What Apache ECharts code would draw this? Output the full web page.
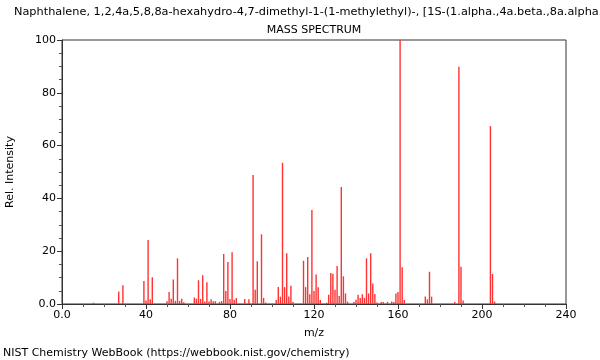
<!DOCTYPE html>
<html><head><meta charset="utf-8">
<script src="https://cdn.jsdelivr.net/npm/echarts@6/dist/echarts.min.js"></script>
<style>html,body{margin:0;padding:0;background:#fff;}#c{width:600px;height:360px;}</style>
</head><body><div id="c"></div>
<script>
var titleLine = "Naphthalene, 1,2,4a,5,8,8a-hexahydro-4,7-dimethyl-1-(1-methylethyl)-, [1S-(1.alpha.,4a.beta.,8a.alpha.)]-";
var subTitle = "MASS SPECTRUM";
var footer = "NIST Chemistry WebBook (https://webbook.nist.gov/chemistry)";
var xTicks = [0, 40, 80, 120, 160, 200, 240];
var yTicks = [0, 20, 40, 60, 80, 100];
var mz = [15,27,29,39,40,41,42,43,50,51,52,53,54,55,56,57,58,63,64,65,66,67,68,69,70,71,72,73,75,76,77,78,79,80,81,82,83,87,89,
  91,92,93,95,96,97,102,103,104,105,106,107,108,109,110,115,116,117,118,119,120,121,122,123,126,127,128,129,130,131,132,133,134,135,136,
  139,140,141,142,143,144,145,146,147,148,149,150,152,153,155,157,158,159,160,161,162,163,173,174,175,176,187,189,190,191,204,205,206];
var intensity = [0.5,4.7,7.1,8.7,1.3,24.2,1.8,10.1,1.0,4.5,2.0,9.3,1.2,17.3,1.2,2.0,0.7,2.5,2.0,9.0,1.9,10.9,0.9,8.2,0.9,1.8,1.0,1.0,0.8,1.1,18.9,4.9,15.9,1.9,19.6,1.6,2.3,1.9,1.8,
  48.9,5.4,16.2,26.4,2.3,0.6,1.5,6.4,2.8,53.5,6.4,19.2,2.8,6.9,0.8,16.4,6.4,17.8,3.7,35.6,4.9,11.2,6.3,1.5,0.5,3.5,11.7,11.5,5.4,14.4,3.0,44.3,10.5,4.0,0.9,
  0.8,1.6,3.5,2.3,3.7,2.3,17.3,4.0,19.2,7.8,3.8,0.6,0.8,0.8,0.8,0.9,0.8,4.0,4.5,100,13.9,1.5,2.8,1.8,12.2,2.8,0.8,89.9,14.1,1.3,67.4,11.4,0.9];

var data = mz.map(function(m, i){ return [m, intensity[i]]; });
var chart = echarts.init(document.getElementById('c'), null, {renderer:'canvas'});
var fmt = function(v){ return v === 0 ? '0.0' : String(v); };
var axisCol = '#333';
chart.setOption({
  animation: false,
  textStyle: {fontFamily: 'DejaVu Sans'},
  grid: {left: 62, right: 34, top: 40, bottom: 56, containLabel: false, outerBoundsMode: 'none', show: true, borderColor: axisCol, borderWidth: 1, backgroundColor: 'transparent'},
  graphic: [
    {type:'text', x: 14, y: 7, style:{text: titleLine, fontSize: 11.3, fontFamily:'DejaVu Sans', fill:'#000', textVerticalAlign:'top'}},
    {type:'text', x: 314, y: 25, style:{text: subTitle, fontSize: 11, fontFamily:'DejaVu Sans', fill:'#000', textAlign:'center', textVerticalAlign:'top'}},
    {type:'text', x: 3, y: 348, style:{text: footer, fontSize: 11, fontFamily:'DejaVu Sans', fill:'#000', textVerticalAlign:'top'}}
  ],
  xAxis: {
    type: 'value', min: xTicks[0], max: xTicks[xTicks.length-1], interval: 40,
    name: 'm/z', nameLocation: 'middle', nameGap: 24, nameTextStyle: {fontSize: 11, color:'#000', fontFamily:'DejaVu Sans'},
    axisLine: {show: true, lineStyle: {color: axisCol}},
    axisTick: {show: true, length: 5, lineStyle: {color: axisCol}},
    minorTick: {show: true, splitNumber: 4, length: 3, lineStyle: {color: '#555'}},
    splitLine: {show: false},
    axisLabel: {formatter: fmt, fontSize: 11, color: '#000', margin: 6, fontFamily:'DejaVu Sans'}
  },
  yAxis: {
    type: 'value', min: yTicks[0], max: yTicks[yTicks.length-1], interval: 20,
    name: 'Rel. Intensity', nameLocation: 'middle', nameGap: 46, nameRotate: 90, nameTextStyle: {fontSize: 11, color:'#000', fontFamily:'DejaVu Sans'},
    axisLine: {show: true, lineStyle: {color: axisCol}},
    axisTick: {show: true, length: 5, lineStyle: {color: axisCol}},
    minorTick: {show: true, splitNumber: 4, length: 3, lineStyle: {color: '#555'}},
    splitLine: {show: false},
    axisLabel: {formatter: fmt, fontSize: 11, color: '#000', margin: 6, fontFamily:'DejaVu Sans'}
  },
  series: [{
    type: 'bar', data: data, barWidth: 1.4, itemStyle: {color: '#ff3333'}, silent: true
  }]
});
</script></body></html>
